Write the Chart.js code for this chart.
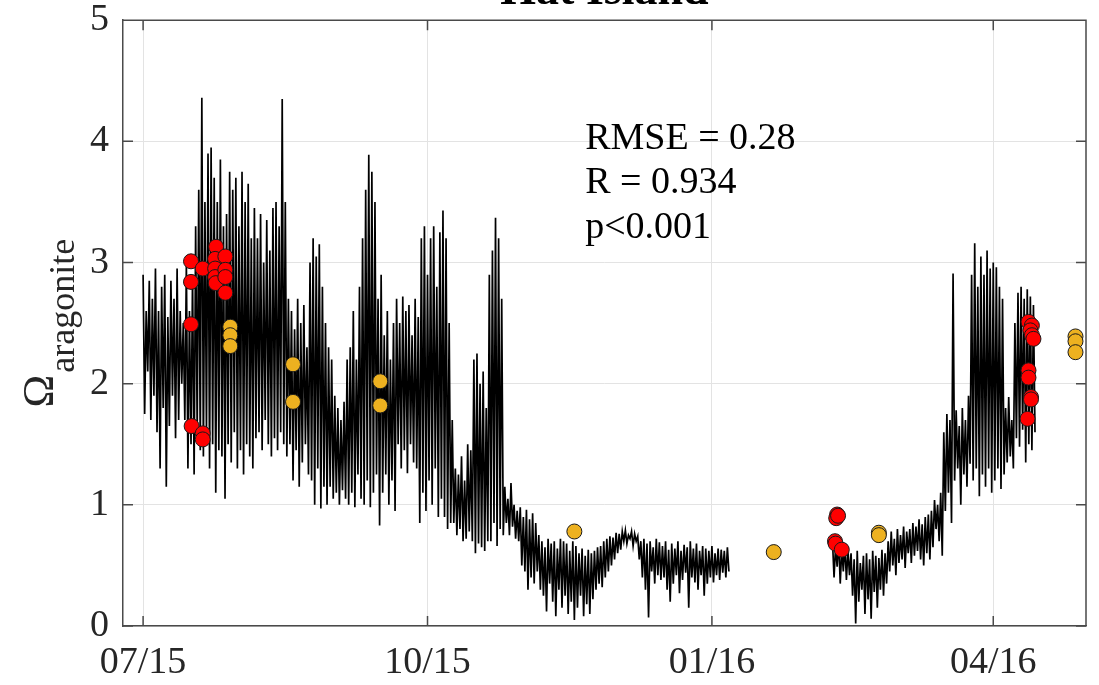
<!DOCTYPE html>
<html>
<head>
<meta charset="utf-8">
<script src="https://cdn.jsdelivr.net/npm/chart.js@4/dist/chart.umd.min.js"></script>
<style>
  html, body { margin: 0; padding: 0; background: #fff; overflow: hidden; }
  #wrap { position: absolute; left: 0; top: -41px; width: 1099px; height: 726px; }
</style>
</head>
<body>
<div id="wrap"><canvas id="chart"></canvas></div>
<script>
// x values are days since 1 Jul 2015
const tickDays = [0, 92, 184, 275];
const tickLabels = ["07/15", "10/15", "01/16", "04/16"];

// sensor record, daily high / low (days 0..189)
const hiA = [
  2.9, 2.6, 2.85, 2.7, 2.95, 2.6, 2.8, 2.9, 2.55, 2.85,
  2.7, 2.95, 2.6, 2.5, 3.0, 2.6, 2.9, 3.3, 3.6, 4.36,
  3.5, 3.9, 3.95, 3.7, 3.5, 3.85, 3.3, 3.4, 3.75, 3.6,
  3.7, 3.3, 3.75, 3.5, 3.65, 3.2, 3.45, 3.2, 3.4, 3.0,
  3.35, 3.1, 3.45, 3.5, 3.3, 4.35, 3.5, 2.7, 2.6, 2.45,
  2.7, 2.5, 2.65, 2.3, 3.0, 3.2, 3.05, 3.15, 2.8, 2.5,
  2.3, 2.2, 1.9, 1.8, 1.7, 1.85, 2.2, 2.3, 2.6, 2.2,
  2.8, 3.2, 3.6, 3.89, 3.75, 3.5, 2.7, 2.9, 2.4, 2.6,
  2.2, 2.5, 2.7, 2.5, 2.72, 2.6, 2.65, 2.4, 2.7, 2.55,
  3.2, 3.3, 2.9, 3.2, 3.3, 2.8, 3.25, 3.43, 3.2, 2.5,
  1.7, 1.3, 1.25, 1.4, 1.2, 1.5, 1.45, 2.2, 2.25, 2.0,
  2.1, 1.8, 2.9, 3.1, 3.37, 3.2, 2.7, 1.15, 1.05, 1.18,
  1.0, 0.95, 0.98, 0.9, 0.96, 0.88, 0.93, 0.85, 0.75, 0.7,
  0.65, 0.72, 0.68, 0.7, 0.64, 0.72, 0.7, 0.68, 0.62, 0.7,
  0.66, 0.6, 0.64, 0.58, 0.63, 0.6, 0.62, 0.65, 0.66, 0.7,
  0.72, 0.74, 0.73, 0.77, 0.76, 0.78, 0.79, 0.75, 0.78, 0.76,
  0.74, 0.7, 0.72, 0.68, 0.7, 0.65, 0.72, 0.69, 0.66, 0.7,
  0.63, 0.68, 0.64, 0.7, 0.62, 0.67, 0.65, 0.7, 0.64, 0.68,
  0.62, 0.66, 0.64, 0.62, 0.66, 0.6, 0.64, 0.63, 0.62, 0.65
];
const loA = [
  1.75, 2.1, 1.7, 1.9, 1.6, 1.3, 1.8, 1.15, 1.65, 1.9,
  1.55, 1.7, 2.0, 1.7, 1.3, 1.5, 1.25, 1.6, 1.45, 1.4,
  1.6, 1.3, 1.5, 1.1, 1.45, 1.4, 1.05, 1.5, 1.35, 1.6,
  1.3, 1.45, 1.25, 1.5, 1.4, 1.3, 1.55, 1.6, 1.45, 1.7,
  1.5, 1.4, 1.55, 1.45, 1.6, 1.5, 1.4, 1.5, 1.2, 1.45,
  1.15, 1.35, 1.5, 1.25, 1.2, 1.0, 1.3, 0.97, 1.15, 1.0,
  1.15, 1.05, 1.1, 1.0, 1.12, 1.05, 1.0, 1.1, 0.98, 1.25,
  1.05, 1.0, 1.2, 0.98, 1.1, 1.25, 0.83, 1.1, 1.25, 1.0,
  1.2, 0.95, 1.5, 1.3, 1.45, 1.26, 1.5, 1.35, 1.3, 0.85,
  1.1, 0.95, 1.2, 1.0, 1.3, 0.9, 1.05, 0.9, 0.8, 0.85,
  0.85, 0.75, 0.8, 0.7, 0.72, 0.78, 0.7, 0.6, 0.68, 0.65,
  0.62, 0.7, 0.7, 0.85, 0.66, 0.8, 0.75, 0.85, 0.75, 0.82,
  0.72, 0.7, 0.5, 0.45, 0.3, 0.4, 0.35, 0.45, 0.3, 0.25,
  0.12, 0.35, 0.2, 0.08, 0.3, 0.15, 0.25, 0.1, 0.2, 0.05,
  0.15, 0.25, 0.08, 0.18, 0.1, 0.22, 0.3, 0.35, 0.32, 0.4,
  0.45, 0.5, 0.55, 0.6, 0.63, 0.7, 0.68, 0.72, 0.66, 0.7,
  0.55, 0.4, 0.3, 0.07, 0.45, 0.35, 0.42, 0.38, 0.4, 0.3,
  0.2, 0.35, 0.42, 0.27, 0.38, 0.44, 0.15, 0.4, 0.36, 0.3,
  0.42, 0.25, 0.35, 0.4, 0.36, 0.42, 0.38, 0.44, 0.4, 0.45
];
// second deployment (days 223..288)
const startB = 223;
const hiB = [
  0.7, 0.66, 0.71, 0.64, 0.68, 0.63, 0.6, 0.55, 0.62, 0.52,
  0.58, 0.6, 0.55, 0.62, 0.58, 0.56, 0.63, 0.6, 0.7, 0.78,
  0.72, 0.8, 0.75, 0.82, 0.78, 0.8, 0.85, 0.82, 0.88, 0.84,
  0.9, 0.92, 0.95, 1.04, 1.0, 1.1, 1.6, 1.75, 1.7, 2.91,
  1.78, 1.65, 1.8, 1.7, 1.9, 2.9, 3.16, 2.8, 3.05, 2.9,
  3.1, 2.95, 3.0, 2.96, 2.8, 2.7, 1.8, 1.89, 1.7, 2.5,
  2.75, 2.8, 2.7, 2.78, 2.72, 2.65
];
const loB = [
  0.4, 0.49, 0.35, 0.45, 0.38, 0.42, 0.25, 0.02, 0.2, 0.3,
  0.1, 0.22, 0.06, 0.28, 0.15, 0.3, 0.25, 0.35, 0.45, 0.5,
  0.42, 0.52, 0.55, 0.48, 0.6, 0.52, 0.58, 0.62, 0.55, 0.5,
  0.6, 0.55, 0.65, 0.8, 0.7, 0.58, 0.95, 1.1, 0.85, 1.2,
  1.3, 1.0, 1.25, 1.15, 1.34, 1.2, 1.3, 1.07, 1.25, 1.15,
  1.3, 1.1, 1.2, 1.3, 1.13, 1.25, 1.35, 1.4, 1.3, 1.55,
  1.48, 1.62, 1.35, 1.5, 1.45, 1.6
];

// bottle samples [day, value]
const redPts = [
  [15.5, 3.01], [15.5, 2.84], [15.5, 2.49], [15.7, 1.65],
  [19.3, 2.95], [19.3, 1.59], [19.3, 1.54],
  [23.6, 3.13], [23.3, 3.03], [23.3, 2.95], [23.3, 2.88], [23.5, 2.83],
  [26.6, 3.05], [26.6, 2.94], [26.6, 2.88], [26.6, 2.75],
  [224.5, 0.92], [224.2, 0.89], [224.8, 0.91], [223.8, 0.70], [224.0, 0.68], [226.0, 0.63],
  [286.4, 2.51], [287.5, 2.48], [287.0, 2.44], [287.5, 2.40], [288.0, 2.37],
  [286.4, 2.11], [286.4, 2.05], [287.2, 1.89], [287.2, 1.87], [286.1, 1.71]
];
const orangePts = [
  [28.2, 2.47], [28.2, 2.40], [28.2, 2.31],
  [48.5, 2.16], [48.5, 1.85],
  [76.7, 2.02], [76.7, 1.82],
  [139.5, 0.78], [204, 0.61], [238, 0.77], [238, 0.75],
  [301.6, 2.39], [301.6, 2.35], [301.6, 2.26]
];

const statsText = ["RMSE = 0.28", "R = 0.934", "p<0.001"];
const statsDay = 143;
const statsY = [3.94, 3.57, 3.2];

const serif = "'Liberation Serif', 'Times New Roman', serif";

const lineData = [];
function addSeg(start, hi, lo) {
  hi.forEach((h, i) => {
    lineData.push({x: start + i, y: h});
    lineData.push({x: start + i + 0.5, y: lo[i]});
  });
}
addSeg(0, hiA, loA);
lineData.push({x: 206, y: null});
addSeg(startB, hiB, loB);

const frame = {
  id: 'frame',
  beforeDatasetsDraw(chart) {
    const ctx = chart.ctx, a = chart.chartArea;
    const xs = chart.scales.x, ys = chart.scales.y;
    const len = 10;
    ctx.save();
    ctx.strokeStyle = '#4a4a4a';
    ctx.lineWidth = 1.5;
    ctx.beginPath();
    ctx.moveTo(a.left, a.top); ctx.lineTo(a.right, a.top); ctx.lineTo(a.right, a.bottom);
    ys.ticks.forEach(t => {
      const py = ys.getPixelForValue(t.value);
      ctx.moveTo(a.left, py); ctx.lineTo(a.left + len, py);
      ctx.moveTo(a.right, py); ctx.lineTo(a.right - len, py);
    });
    xs.ticks.forEach(t => {
      const px = xs.getPixelForValue(t.value);
      ctx.moveTo(px, a.bottom); ctx.lineTo(px, a.bottom - len);
      ctx.moveTo(px, a.top); ctx.lineTo(px, a.top + len);
    });
    ctx.stroke();
    ctx.restore();
  },
  afterDraw(chart) {
    const ctx = chart.ctx, a = chart.chartArea;
    const xs = chart.scales.x, ys = chart.scales.y;
    ctx.save();
    // y label: Omega with subscript
    ctx.fillStyle = '#262626';
    ctx.textBaseline = 'alphabetic';
    ctx.textAlign = 'left';
    ctx.font = '44px ' + serif;
    const wO = ctx.measureText('Ω').width;
    ctx.font = '36px ' + serif;
    const wS = ctx.measureText('aragonite').width;
    const total = wO + 2 + wS;
    ctx.translate(a.left - 70, (a.top + a.bottom) / 2 + total / 2);
    ctx.rotate(-Math.PI / 2);
    ctx.font = '44px ' + serif;
    ctx.fillText('Ω', 0, 0);
    ctx.font = '36px ' + serif;
    ctx.fillText('aragonite', wO + 2, 21);
    ctx.restore();

    ctx.save();
    ctx.fillStyle = '#000';
    ctx.font = '38px ' + serif;
    ctx.textAlign = 'left';
    ctx.textBaseline = 'alphabetic';
    statsText.forEach((s, i) => {
      ctx.fillText(s, xs.getPixelForValue(statsDay), ys.getPixelForValue(statsY[i]));
    });
    ctx.restore();
  }
};

new Chart(document.getElementById('chart'), {
  type: 'scatter',
  data: {
    datasets: [
      {
        label: 'sensor',
        data: lineData,
        showLine: true,
        spanGaps: false,
        borderColor: '#000',
        borderWidth: 1.7,
        pointRadius: 0,
        order: 3
      },
      {
        label: 'orange',
        data: orangePts.map(p => ({x: p[0], y: p[1]})),
        backgroundColor: '#edb120',
        borderColor: '#1a1a1a',
        borderWidth: 1,
        pointRadius: 7.5,
        order: 2
      },
      {
        label: 'red',
        data: redPts.map(p => ({x: p[0], y: p[1]})),
        backgroundColor: '#ff0000',
        borderColor: '#1a1a1a',
        borderWidth: 1,
        pointRadius: 7.5,
        order: 1
      }
    ]
  },
  options: {
    responsive: true,
    maintainAspectRatio: false,
    animation: false,
    layout: {padding: {left: 0, right: 13, top: 0, bottom: 0}},
    plugins: {
      legend: {display: false},
      tooltip: {enabled: false},
      title: {
        display: true,
        text: 'Hat Island',
        fullSize: false,
        color: '#000',
        font: {family: serif, size: 46, weight: 'bold'},
        padding: {top: 6, bottom: 0}
      }
    },
    scales: {
      x: {
        type: 'linear',
        min: -6.5,
        max: 305,
        afterBuildTicks(s) { s.ticks = tickDays.map(v => ({value: v})); },
        afterFit(s) { s.height = 59; },
        ticks: {
          autoSkip: false,
          maxRotation: 0,
          padding: 14,
          color: '#262626',
          font: {family: serif, size: 38},
          callback(v) { const i = tickDays.indexOf(v); return i >= 0 ? tickLabels[i] : ''; }
        },
        grid: {color: '#e3e3e3', drawTicks: false},
        border: {color: '#4a4a4a', width: 1.5}
      },
      y: {
        min: 0,
        max: 5,
        afterFit(s) { s.width = 123; },
        ticks: {
          stepSize: 1,
          padding: 14,
          color: '#262626',
          font: {family: serif, size: 38}
        },
        grid: {color: '#e3e3e3', drawTicks: false},
        border: {color: '#4a4a4a', width: 1.5}
      }
    }
  },
  plugins: [frame]
});
</script>
</body>
</html>
